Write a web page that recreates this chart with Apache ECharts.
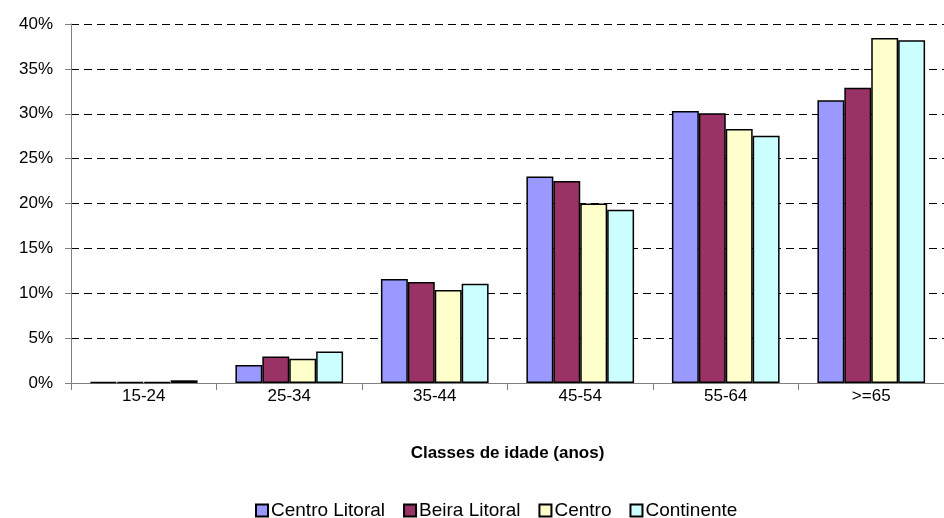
<!DOCTYPE html>
<html>
<head>
<meta charset="utf-8">
<script src="https://cdn.jsdelivr.net/npm/echarts@6/dist/echarts.min.js"></script>
<style>
  html, body { margin: 0; padding: 0; background: #fff; }
  #chart { width: 944px; height: 518px; }
</style>
</head>
<body>
<div id="chart"></div>
<script>
const categories = ['15-24', '25-34', '35-44', '45-54', '55-64', '>=65']
const seriesNames = ['Centro Litoral', 'Beira Litoral', 'Centro', 'Continente']
const centroLitoral = [0.1, 2.0, 11.6, 23.0, 30.3, 31.5]
const beiraLitoral = [0.1, 2.95, 11.25, 22.5, 30.05, 32.9]
const centro = [0.1, 2.7, 10.35, 20.0, 28.3, 38.45]
const continente = [0.3, 3.5, 11.05, 19.3, 27.55, 38.2]
const colors = ['#9999FF', '#993366', '#FFFFCC', '#CCFFFF']

const values = [centroLitoral, beiraLitoral, centro, continente]
const font = 'Liberation Sans, Arial, sans-serif'

const chart = echarts.init(document.getElementById('chart'))
chart.setOption({
  animation: false,
  backgroundColor: '#fff',
  textStyle: { fontFamily: font },
  // the source picture is cropped on the right, last category runs past the edge
  grid: { left: 71, right: -11, top: 24, bottom: 135 },
  legend: {
    top: 501,
    left: 255,
    padding: 0,
    itemWidth: 12,
    itemHeight: 12,
    itemGap: 18,
    icon: 'rect',
    textStyle: { fontSize: 19, color: '#000', fontFamily: font, padding: [0, 0, 0, -2] },
    data: seriesNames
  },
  xAxis: {
    type: 'category',
    data: categories,
    name: 'Classes de idade (anos)',
    nameLocation: 'middle',
    nameGap: 62,
    nameTextStyle: { fontSize: 17, fontWeight: 'bold', color: '#000' },
    axisLine: { lineStyle: { color: '#808080', width: 1 } },
    axisTick: { show: true, length: 7, lineStyle: { color: '#808080' } },
    axisLabel: { fontSize: 17, color: '#000', margin: 5 }
  },
  yAxis: {
    type: 'value',
    min: 0,
    max: 40,
    interval: 5,
    axisLine: { show: true, lineStyle: { color: '#808080', width: 1 } },
    axisTick: { show: true, length: 6, lineStyle: { color: '#808080' } },
    axisLabel: { fontSize: 17, color: '#000', margin: 18, formatter: '{value}%' },
    splitLine: { show: true, lineStyle: { color: '#000', type: [8, 5], width: 1 } }
  },
  series: seriesNames.map((name, i) => ({
    name: name,
    type: 'bar',
    data: values[i],
    barGap: '0%',
    barCategoryGap: '26%',
    itemStyle: { color: colors[i], borderColor: '#000', borderWidth: 1.5 }
  }))
})
</script>
</body>
</html>
